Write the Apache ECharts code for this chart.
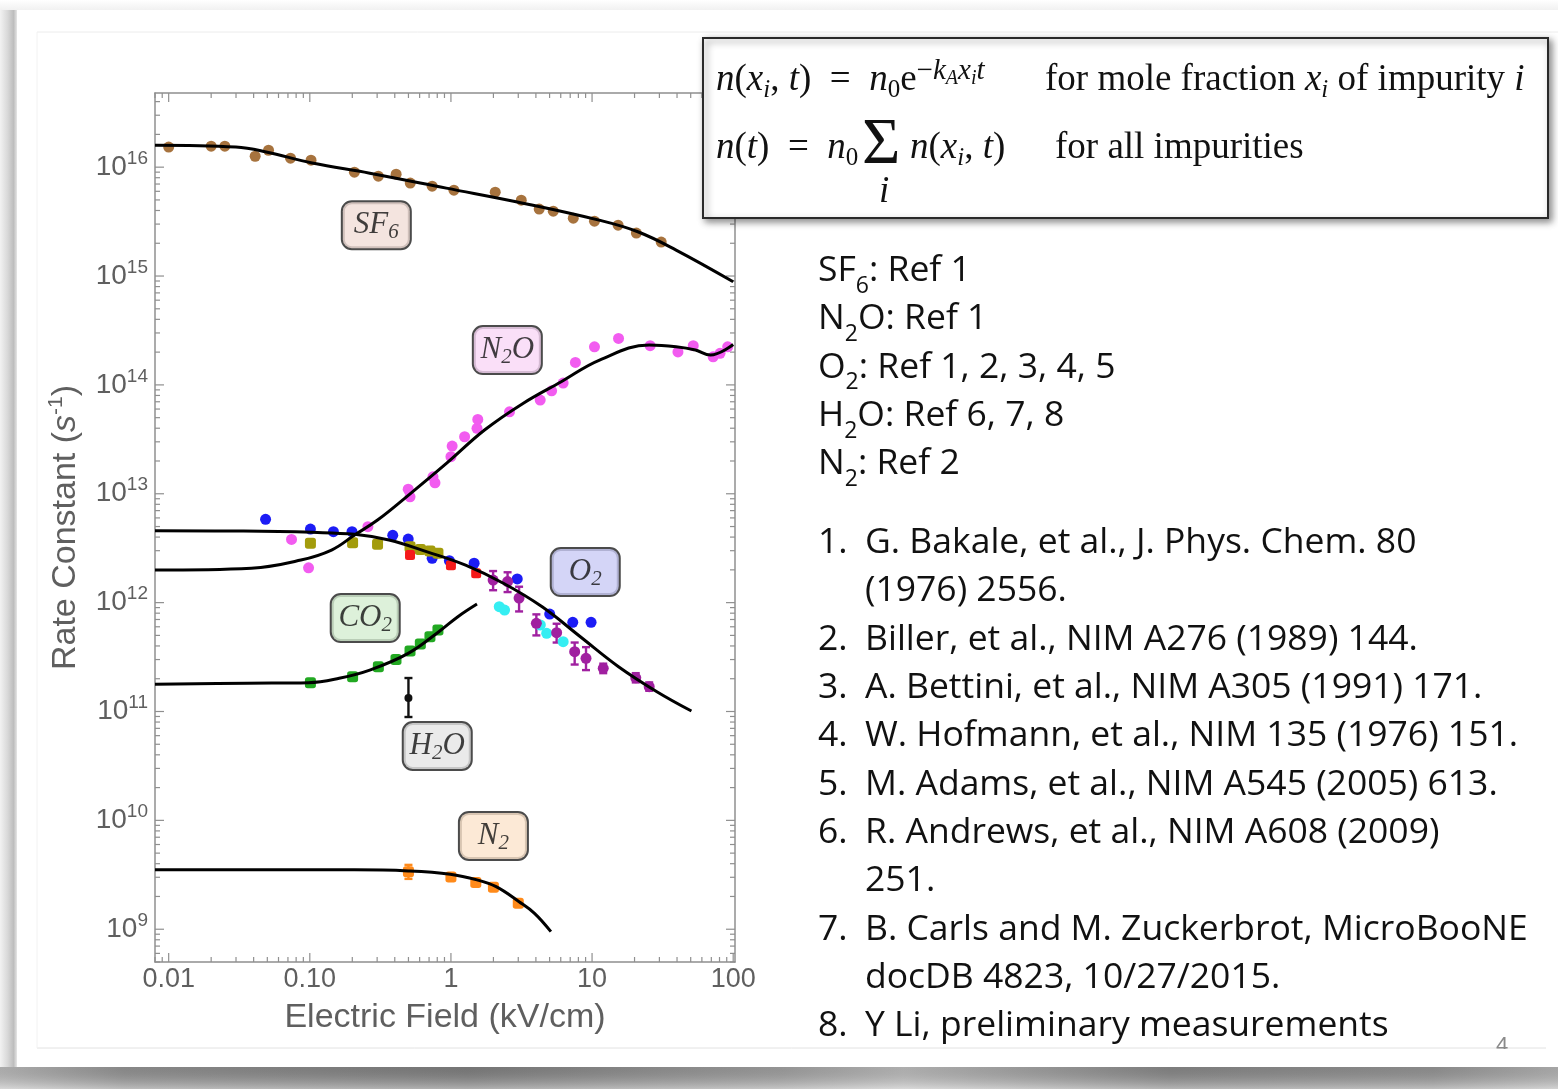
<!DOCTYPE html>
<html>
<head>
<meta charset="utf-8">
<title>Electron attachment rate constants</title>
<script src="https://cdn.jsdelivr.net/npm/echarts@6/dist/echarts.min.js"></script>
<style>
  html, body { margin: 0; padding: 0; background: #ffffff; }
  #main { width: 1558px; height: 1089px; }
</style>
</head>
<body>
<div id="main"></div>
<script>
// ---- axis ranges ----
const xMin = 0.008, xMax = 103;
const yMin = 5.0e8, yMax = 4.8e16;
const xTickValues = [0.01, 0.1, 1, 10, 100];
const xTickText = ['0.01', '0.10', '1', '10', '100'];

// ---- fitted curves (E in kV/cm, k in 1/s) ----
const sf6Fit = [[0.008,1.59e16],[0.0299,1.53e16],[0.049,1.38e16],[0.104,1.09e16],[0.266,8.81e15],[0.927,6.42e15],[3.24,4.67e15],[11.2,3.26e15],[21.1,2.55e15],[39.4,1.73e15],[100,8.85e14]];
const n2oFit = [[0.008,1.99e12],[0.0385,2.07e12],[0.0865,2.46e12],[0.1425,3.04e12],[0.2076,4.18e12],[0.302,5.74e12],[0.482,9.33e12],[0.929,1.90e13],[1.73,3.85e13],[3.24,6.76e13],[6.05,1.07e14],[11.3,1.69e14],[25.4,2.32e14],[39.4,2.24e14],[54,2.09e14],[69,1.88e14],[100,2.35e14]];
const o2Fit = [[0.008,4.57e12],[0.0339,4.54e12],[0.104,4.42e12],[0.2076,4.24e12],[0.364,3.76e12],[0.679,2.93e12],[1.27,2.21e12],[2.37,1.50e12],[4.43,9.16e11],[8.26,4.86e11],[15.4,2.58e11],[28.8,1.52e11],[50.6,1.01e11]];
const co2Fit = [[0.008,1.78e11],[0.0361,1.82e11],[0.098,1.84e11],[0.1615,2.02e11],[0.266,2.40e11],[0.498,3.42e11],[0.821,5.41e11],[1.12,7.43e11],[1.53,9.71e11]];
const n2Fit = [[0.008,3.51e9],[0.2076,3.51e9],[0.498,3.43e9],[0.989,3.20e9],[1.53,2.84e9],[2.09,2.46e9],[3.04,1.79e9],[3.91,1.40e9],[5.11,9.5e8]];

// ---- measurements ----
const sf6Points = [[0.01,1.53e16],[0.02,1.56e16],[0.025,1.56e16],[0.041,1.26e16],[0.051,1.43e16],[0.073,1.21e16],[0.102,1.16e16],[0.207,9.0e15],[0.306,8.27e15],[0.409,8.63e15],[0.515,7.14e15],[0.736,6.69e15],[1.05,6.15e15],[2.06,5.89e15],[3.15,4.98e15],[4.22,4.12e15],[5.31,3.94e15],[7.36,3.40e15],[10.4,3.19e15],[15.3,2.93e15],[20.6,2.48e15],[30.9,2.05e15]];
const n2oPoints = [[0.0742,3.81e12],[0.098,2.09e12],[0.258,4.98e12],[0.498,1.10e13],[0.513,9.38e12],[0.746,1.43e13],[0.771,1.26e13],[1.00,2.19e13],[1.02,2.74e13],[1.25,3.34e13],[1.53,3.99e13],[1.55,4.82e13],[2.60,5.66e13],[4.29,7.25e13],[5.17,8.83e13],[6.24,1.04e14],[7.62,1.61e14],[10.4,2.24e14],[15.4,2.67e14],[25.8,2.29e14],[40.6,2.01e14],[52.1,2.29e14],[72.1,1.81e14],[80.7,1.95e14],[91.4,2.24e14]];
const o2BluePoints = [[0.0486,5.82e12],[0.101,4.74e12],[0.147,4.48e12],[0.199,4.48e12],[0.387,4.15e12],[0.498,3.84e12],[0.736,2.55e12],[0.975,2.43e12],[1.46,2.30e12],[2.95,1.65e12],[5.01,7.86e11],[7.30,6.59e11],[9.84,6.59e11]];
const o2OlivePoints = [[0.101,3.51e12],[0.201,3.55e12],[0.302,3.43e12],[0.513,3.26e12],[0.607,3.08e12],[0.710,2.98e12],[0.809,2.84e12]];
const o2RedPoints = [[0.513,2.74e12],[1.00,2.21e12],[1.51,1.86e12]];
const o2CyanPoints = [[2.20,9.17e11],[2.40,8.55e11],[4.30,6.23e11],[4.77,5.22e11],[6.24,4.38e11]];
// [E, k, k low, k high]
const o2PurplePoints = [[1.99,1.61e12,1.30e12,1.95e12],[2.52,1.56e12,1.25e12,1.90e12],[3.04,1.10e12,8.3e11,1.40e12],[4.03,6.45e11,5.0e11,7.8e11],[5.61,5.30e11,4.3e11,6.4e11],[7.53,3.54e11,2.7e11,4.3e11],[9.06,3.08e11,2.4e11,3.9e11],[12.0,2.49e11,2.25e11,2.75e11],[20.4,2.04e11,1.85e11,2.25e11],[25.4,1.69e11,1.55e11,1.85e11]];
const co2Points = [[0.101,1.84e11],[0.201,2.09e11],[0.306,2.58e11],[0.408,3.01e11],[0.513,3.59e11],[0.607,4.17e11],[0.710,4.86e11],[0.809,5.60e11]];
const h2oPoints = [[0.5,1.33e11,8.9e10,2.03e11]];
const n2Points = [[0.5,3.38e9,2.90e9,3.90e9],[1.0,3.02e9,2.86e9,3.18e9],[1.5,2.68e9,2.56e9,2.80e9],[2.0,2.43e9,2.31e9,2.56e9],[3.0,1.73e9,1.65e9,1.82e9]];

// ---- curve tags ----
const tagPositions = [[0.296,2.93e15],[2.51,2.09e14],[8.95,1.91e12],[0.247,7.22e11],[0.80,4.82e10],[2.0,7.19e9]];
const tagTexts = ['{t|SF}{s|6}','{t|N}{s|2}{t|O}','{t|O}{s|2}','{t|CO}{s|2}','{t|H}{s|2}{t|O}','{t|N}{s|2}'];
const tagFills = ['#f1ddd7','#f9d7f6','#c9cbf5','#d4edd1','#e5e5e5','#fbe3cc'];

// ---- side text ----
const sourceLines = ['SF{s|6}: Ref 1','N{s|2}O: Ref 1','O{s|2}: Ref 1, 2, 3, 4, 5','H{s|2}O: Ref 6, 7, 8','N{s|2}: Ref 2'];
const refNumbers = ['1.','2.','3.','4.','5.','6.','7.','8.'];
const refTexts = [
  ['G. Bakale, et al., J. Phys. Chem. 80','(1976) 2556.'],
  ['Biller, et al., NIM A276 (1989) 144.'],
  ['A. Bettini, et al., NIM A305 (1991) 171.'],
  ['W. Hofmann, et al., NIM 135 (1976) 151.'],
  ['M. Adams, et al., NIM A545 (2005) 613.'],
  ['R. Andrews, et al., NIM A608 (2009)','251.'],
  ['B. Carls and M. Zuckerbrot, MicroBooNE','docDB 4823, 10/27/2015.'],
  ['Y Li, preliminary measurements']
];

// ---------------------------------------------------------------
const axisGrey = '#8f8f8f';
const labelGrey = '#5f5f5f';
const sansFont = 'Liberation Sans';
const serifFont = 'Liberation Serif';
const textFont = 'Open Sans';
const textSize = 35.5;

// frame tick marks on all four sides (log minor ticks at 2..9)
const xTicks = [], yTicks = [];
for (let e = -3; e <= 2; e++) {
  for (let k = 1; k <= 9; k++) {
    const v = k * Math.pow(10, e);
    if (v >= xMin && v <= xMax) xTicks.push([v, yMin, k === 1 ? 9 : 5]);
  }
}
for (let e = 8; e <= 16; e++) {
  for (let k = 1; k <= 9; k++) {
    const v = k * Math.pow(10, e);
    if (v >= yMin && v <= yMax) yTicks.push([xMin, v, k === 1 ? 9 : 5]);
  }
}

function tickLine(x1, y1, x2, y2) {
  return { type: 'line', shape: { x1, y1, x2, y2 }, style: { stroke: axisGrey, lineWidth: 1.2 } };
}

const fitSeries = [sf6Fit, n2oFit, o2Fit, co2Fit, n2Fit].map(d => ({
  type: 'line', data: d, smooth: 0.4, showSymbol: false, symbol: 'none', z: 5,
  lineStyle: { color: '#000000', width: 3 }, silent: true
}));

function dots(data, color, symbol, size) {
  return {
    type: 'scatter', data: data.map(p => [p[0], p[1]]), symbol: symbol || 'circle',
    symbolSize: size || 11, z: 3, silent: true,
    itemStyle: { color: color, opacity: 1 }
  };
}

function errorBars(data, color, capHalf) {
  return {
    type: 'custom', z: 3, silent: true, clip: false,
    data: data.map(p => [p[0], p[2], p[3]]),
    renderItem: function (params, api) {
      const lo = api.coord([api.value(0), api.value(1)]);
      const hi = api.coord([api.value(0), api.value(2)]);
      const st = { stroke: color, lineWidth: 2.4 };
      return { type: 'group', children: [
        { type: 'line', shape: { x1: lo[0], y1: lo[1], x2: hi[0], y2: hi[1] }, style: st },
        { type: 'line', shape: { x1: lo[0] - capHalf, y1: lo[1], x2: lo[0] + capHalf, y2: lo[1] }, style: st },
        { type: 'line', shape: { x1: hi[0] - capHalf, y1: hi[1], x2: hi[0] + capHalf, y2: hi[1] }, style: st }
      ]};
    }
  };
}

const series = [
  // axis frame ticks
  {
    type: 'custom', silent: true, clip: false, z: 2, data: xTicks,
    renderItem: function (params, api) {
      const v = api.value(0), len = api.value(2);
      const b = api.coord([v, yMin]), t = api.coord([v, yMax]);
      return { type: 'group', children: [tickLine(b[0], b[1], b[0], b[1] - len), tickLine(t[0], t[1], t[0], t[1] + len)] };
    }
  },
  {
    type: 'custom', silent: true, clip: false, z: 2, data: yTicks,
    renderItem: function (params, api) {
      const v = api.value(1), len = api.value(2);
      const l = api.coord([xMin, v]), r = api.coord([xMax, v]);
      return { type: 'group', children: [tickLine(l[0], l[1], l[0] + len, l[1]), tickLine(r[0], r[1], r[0] - len, r[1])] };
    }
  },
  dots(sf6Points, '#a7733e'),
  dots(n2oPoints, '#f25cf0'),
  dots(o2BluePoints, '#1c1cf5'),
  dots(o2OlivePoints, '#a39c0c', 'roundRect', 11),
  dots(o2RedPoints, '#f51a1a', 'roundRect', 10),
  dots(o2CyanPoints, '#35eef2'),
  errorBars(o2PurplePoints, '#a020a0', 4),
  dots(o2PurplePoints, '#a020a0'),
  dots(co2Points, '#22a822', 'roundRect', 11),
  errorBars(h2oPoints, '#111111', 4),
  dots(h2oPoints, '#111111', 'circle', 8),
  errorBars(n2Points, '#ff8a1a', 4),
  dots(n2Points, '#ff8a1a', 'roundRect', 11),
  ...fitSeries,
  // curve tags
  {
    type: 'scatter', z: 8, silent: true, symbolSize: 1,
    itemStyle: { color: 'rgba(0,0,0,0)' },
    data: tagPositions.map((p, i) => ({
      value: p,
      label: {
        show: true, position: 'inside', formatter: tagTexts[i],
        backgroundColor: tagFills[i], borderColor: '#1e1e1e', borderWidth: 2, borderRadius: 9,
        padding: [4, 8, 5, 8], width: 51, align: 'center',
        rich: {
          t: { fontFamily: serifFont, fontStyle: 'italic', fontSize: 31, lineHeight: 37, color: '#111' },
          s: { fontFamily: serifFont, fontStyle: 'italic', fontSize: 21, lineHeight: 22, verticalAlign: 'bottom', color: '#111' }
        }
      }
    }))
  }
];

const option = {
  backgroundColor: '#ffffff',
  animation: false,
  grid: { left: 155, right: 823, top: 93, bottom: 127, containLabel: false },
  xAxis: [
    {
      type: 'log', logBase: 10, min: xMin, max: xMax, position: 'bottom',
      axisLine: { show: true, onZero: false, lineStyle: { color: axisGrey, width: 1.5 } },
      axisTick: { show: false }, splitLine: { show: false },
      axisLabel: {
        margin: 4, color: labelGrey, fontFamily: sansFont, fontSize: 27,
        formatter: function (v) {
          for (let i = 0; i < xTickValues.length; i++) {
            if (Math.abs(v - xTickValues[i]) / xTickValues[i] < 1e-6) return xTickText[i];
          }
          return '';
        }
      },
      name: 'Electric Field (kV/cm)', nameLocation: 'middle', nameGap: 35,
      nameTextStyle: { color: labelGrey, fontFamily: sansFont, fontSize: 34, lineHeight: 40 }
    },
    {
      type: 'log', logBase: 10, min: xMin, max: xMax, position: 'top',
      axisLine: { show: true, onZero: false, lineStyle: { color: axisGrey, width: 1.5 } },
      axisTick: { show: false }, axisLabel: { show: false }, splitLine: { show: false }
    }
  ],
  yAxis: [
    {
      type: 'log', logBase: 10, min: yMin, max: yMax, position: 'left',
      axisLine: { show: true, onZero: false, lineStyle: { color: axisGrey, width: 1.5 } },
      axisTick: { show: false }, splitLine: { show: false },
      axisLabel: {
        margin: 7, color: labelGrey, fontFamily: sansFont,
        formatter: function (v) {
          const e = Math.round(Math.log10(v));
          if (Math.abs(v - Math.pow(10, e)) / Math.pow(10, e) > 1e-6) return '';
          return '{b|10}{e|' + e + '}';
        },
        rich: {
          b: { fontSize: 28, lineHeight: 36, color: labelGrey, fontFamily: sansFont },
          e: { fontSize: 19, lineHeight: 19, verticalAlign: 'top', color: labelGrey, fontFamily: sansFont }
        }
      },
      name: '{n|Rate Constant (}{i|s}{p|-1}{n|)}', nameLocation: 'middle', nameGap: 69, nameRotate: 90,
      nameTextStyle: {
        rich: {
          n: { fontSize: 34, lineHeight: 40, color: labelGrey, fontFamily: sansFont },
          i: { fontSize: 34, lineHeight: 40, color: labelGrey, fontFamily: sansFont, fontStyle: 'italic' },
          p: { fontSize: 21, lineHeight: 21, verticalAlign: 'top', color: labelGrey, fontFamily: sansFont }
        }
      }
    },
    {
      type: 'log', logBase: 10, min: yMin, max: yMax, position: 'right',
      axisLine: { show: true, onZero: false, lineStyle: { color: axisGrey, width: 1.5 } },
      axisTick: { show: false }, axisLabel: { show: false }, splitLine: { show: false }
    }
  ],
  series: series
};

// ---- page furniture: card shadow, formula box, reference text ----
const graphics = [];
// left shadow strip
graphics.push({ type: 'rect', z: 100, silent: true, shape: { x: 0, y: 0, width: 17, height: 1089 },
  style: { fill: new echarts.graphic.LinearGradient(0, 0, 1, 0, [
    { offset: 0, color: '#f2f2f2' }, { offset: 0.45, color: '#d8d8d8' }, { offset: 0.8, color: '#bdbdbd' }, { offset: 1, color: '#e6e6e6' }]) } });
// top edge
graphics.push({ type: 'rect', z: 100, silent: true, shape: { x: 0, y: 0, width: 1558, height: 10 },
  style: { fill: new echarts.graphic.LinearGradient(0, 0, 0, 1, [
    { offset: 0, color: '#ffffff' }, { offset: 1, color: '#f1f1f1' }]) } });
// bottom shadow band
graphics.push({ type: 'rect', z: 100, silent: true, shape: { x: 0, y: 1067, width: 1558, height: 22 },
  style: { fill: new echarts.graphic.LinearGradient(0, 0, 1, 0, [
    { offset: 0, color: '#c4c4c4' }, { offset: 0.08, color: '#9a9a9a' }, { offset: 0.3, color: '#858585' },
    { offset: 0.5, color: '#a8a8a8' }, { offset: 0.58, color: '#c6c6c6' }, { offset: 0.75, color: '#8e8e8e' },
    { offset: 0.92, color: '#9c9c9c' }, { offset: 1, color: '#bdbdbd' }]) } });
graphics.push({ type: 'rect', z: 101, silent: true, shape: { x: 0, y: 1067, width: 1558, height: 22 },
  style: { fill: new echarts.graphic.LinearGradient(0, 0, 0, 1, [
    { offset: 0, color: 'rgba(0,0,0,0.12)' }, { offset: 1, color: 'rgba(255,255,255,0.35)' }]) } });
// faint inner slide edges
graphics.push({ type: 'line', z: 100, silent: true, shape: { x1: 37, y1: 32, x2: 1558, y2: 32 }, style: { stroke: '#ececec', lineWidth: 1 } });
graphics.push({ type: 'line', z: 100, silent: true, shape: { x1: 37, y1: 1048, x2: 1546, y2: 1048 }, style: { stroke: '#e2e2e2', lineWidth: 1 } });
graphics.push({ type: 'line', z: 100, silent: true, shape: { x1: 37, y1: 32, x2: 37, y2: 1048 }, style: { stroke: '#f2f2f2', lineWidth: 1 } });
// page number, cut by the footer edge
graphics.push({ type: 'text', z: 100, silent: true, style: { text: '4', x: 1502, y: 1057, align: 'center', verticalAlign: 'bottom',
  fill: '#8a8a8a', font: '22px ' + sansFont } });
graphics.push({ type: 'rect', z: 101, silent: true, shape: { x: 1480, y: 1049, width: 50, height: 17 }, style: { fill: '#ffffff' } });

// formula box
graphics.push({ type: 'rect', z: 110, silent: true, shape: { x: 703, y: 38, width: 845, height: 180 },
  style: { fill: '#ffffff', stroke: '#2a2a2a', lineWidth: 2, shadowBlur: 7, shadowOffsetX: 3, shadowOffsetY: 3, shadowColor: 'rgba(0,0,0,0.45)' } });
const mathRich = {
  i: { fontFamily: serifFont, fontStyle: 'italic', fontSize: 37, lineHeight: 46 },
  si: { fontFamily: serifFont, fontStyle: 'italic', fontSize: 25, lineHeight: 26, verticalAlign: 'bottom' },
  sb: { fontFamily: serifFont, fontSize: 25, lineHeight: 26, verticalAlign: 'bottom' },
  sp: { fontFamily: serifFont, fontSize: 29, lineHeight: 27, verticalAlign: 'top' },
  spi: { fontFamily: serifFont, fontStyle: 'italic', fontSize: 29, lineHeight: 27, verticalAlign: 'top' },
  ss: { fontFamily: serifFont, fontStyle: 'italic', fontSize: 20, lineHeight: 18, verticalAlign: 'top', padding: [12, 0, 0, 0] }
};
function mathText(str, x, y, size) {
  return { type: 'text', z: 111, silent: true, style: {
    text: str, x: x, y: y, align: 'left', verticalAlign: 'middle', fill: '#111111',
    fontFamily: serifFont, fontSize: size || 37, lineHeight: 46, rich: mathRich } };
}
graphics.push(mathText('{i|n}({i|x}{si|i}, {i|t})  =  {i|n}{sb|0}e{sp|−}{spi|k}{ss|A}{spi|x}{ss|i}{spi|t}', 716, 80));
graphics.push(mathText('for mole fraction {i|x}{si|i} of impurity {i|i}', 1045, 80));
graphics.push(mathText('{i|n}({i|t})  =  {i|n}{sb|0}', 716, 148));
graphics.push(mathText('Σ', 862, 146, 66));
graphics.push(mathText('{i|i}', 879, 192, 24));
graphics.push(mathText('{i|n}({i|x}{si|i}, {i|t})', 910, 148));
graphics.push(mathText('for all impurities', 1055, 148));

// gas -> reference table
const sideRich = { s: { fontFamily: textFont, fontSize: 23, lineHeight: 23, verticalAlign: 'bottom', padding: [0, 0, -5, 0] } };
sourceLines.forEach(function (s, i) {
  graphics.push({ type: 'text', z: 100, silent: true, style: {
    text: s, x: 818, y: 271 + i * 48.2, align: 'left', verticalAlign: 'middle', fill: '#111111',
    fontFamily: textFont, fontSize: textSize, lineHeight: 44, rich: sideRich } });
});
// numbered reference list
let row = 0;
refNumbers.forEach(function (num, i) {
  graphics.push({ type: 'text', z: 100, silent: true, style: {
    text: num, x: 818, y: 543 + row * 48.3, align: 'left', verticalAlign: 'middle', fill: '#111111', fontFamily: textFont, fontSize: textSize } });
  refTexts[i].forEach(function (line) {
    graphics.push({ type: 'text', z: 100, silent: true, style: {
      text: line, x: 865, y: 543 + row * 48.3, align: 'left', verticalAlign: 'middle', fill: '#111111', fontFamily: textFont, fontSize: textSize } });
    row++;
  });
});

option.graphic = { elements: graphics };

const chart = echarts.init(document.getElementById('main'), null, { renderer: 'canvas' });
chart.setOption(option);
</script>
</body>
</html>
